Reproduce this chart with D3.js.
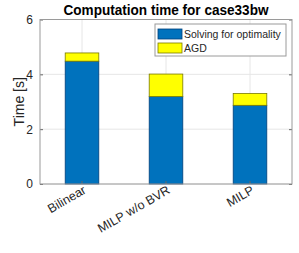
<!DOCTYPE html>
<html>
<head>
<meta charset="utf-8">
<script src="https://cdn.jsdelivr.net/npm/d3@7"></script>
<style>
body { margin: 0; background: #fff; }
text { font-family: "Liberation Sans", Arial, sans-serif; }
</style>
</head>
<body>
<div id="chart"></div>
<script>
// data
const categories = ['Bilinear', 'MILP w/o BVR', 'MILP'];
const solving = [4.48, 3.19, 2.87];
const agd = [0.30, 0.82, 0.43];
const seriesNames = ['Solving for optimality', 'AGD'];
const yTicks = [0, 2, 4, 6];

const colors = ['#0072BD', '#FFFF00'];
const edges = ['#00407a', '#7a7a00'];

const W = 299, H = 253;
const m = {top: 19.5, left: 40, right: 7, bottom: 69};
const cw = W - m.left - m.right;
const ch = H - m.top - m.bottom;

const svg = d3.select('#chart').append('svg')
    .attr('width', W).attr('height', H);
const g = svg.append('g').attr('transform', `translate(${m.left},${m.top})`);

const x = d3.scaleBand().domain(categories).range([0, cw]).paddingInner(0.6).paddingOuter(0.3);
const y = d3.scaleLinear().domain([0, 6]).range([ch, 0]);

// 格線
g.append('g').selectAll('line.gy').data(yTicks).enter().append('line')
    .attr('x1', 0).attr('x2', cw)
    .attr('y1', d => y(d)).attr('y2', d => y(d))
    .style('stroke', '#e6e6e6').style('stroke-width', 1);
g.append('g').selectAll('line.gx').data(categories).enter().append('line')
    .attr('x1', d => x(d) + x.bandwidth() / 2).attr('x2', d => x(d) + x.bandwidth() / 2)
    .attr('y1', 0).attr('y2', ch)
    .style('stroke', '#e6e6e6').style('stroke-width', 1);

// stacked bars
const stackData = categories.map((c, i) => ({cat: c, s: solving[i], a: agd[i]}));
const stacked = d3.stack().keys(['s', 'a'])(stackData);
stacked.forEach((layer, li) => {
    g.append('g').selectAll('rect').data(layer).enter().append('rect')
        .attr('x', d => x(d.data.cat))
        .attr('width', x.bandwidth())
        .attr('y', d => y(d[1]))
        .attr('height', d => y(d[0]) - y(d[1]))
        .style('fill', colors[li])
        .style('stroke', edges[li])
        .style('stroke-width', 0.8);
});

// axes
const yAxis = d3.axisLeft(y).tickValues(yTicks).tickFormat(d3.format('d'))
    .tickSizeInner(-3).tickSizeOuter(0).tickPadding(7);
const yg = g.append('g').call(yAxis);
yg.select('.domain').remove();
yg.selectAll('line').style('stroke', '#666');
yg.selectAll('text').style('font-size', '12px').style('fill', '#262626');

const yAxisR = d3.axisRight(y).tickValues(yTicks).tickSizeInner(-3).tickSizeOuter(0).tickFormat('');
const yr = g.append('g').attr('transform', `translate(${cw},0)`).call(yAxisR);
yr.select('.domain').remove();
yr.selectAll('line').style('stroke', '#666');

const xAxis = d3.axisBottom(x).tickSizeInner(-3).tickSizeOuter(0).tickPadding(3);
const xg = g.append('g').attr('transform', `translate(0,${ch})`).call(xAxis);
xg.select('.domain').remove();
xg.selectAll('line').style('stroke', '#666');
xg.selectAll('text')
    .style('font-size', '12.5px').style('fill', '#262626')
    .style('text-anchor', 'end')
    .attr('dy', '0.55em').attr('dx', '0em')
    .attr('transform', 'rotate(-30)');

// frame
g.append('rect').attr('x', 0).attr('y', 0).attr('width', cw).attr('height', ch)
    .style('fill', 'none').style('stroke', '#9a9a9a').style('stroke-width', 1);

// title
svg.append('text').attr('x', m.left + cw / 2).attr('y', 15)
    .attr('text-anchor', 'middle')
    .attr('textLength', 205).attr('lengthAdjust', 'spacingAndGlyphs')
    .style('font-size', '14px').style('font-weight', 'bold').style('fill', '#000')
    .text('Computation time for case33bw');

// y label
svg.append('text')
    .attr('transform', `translate(23.5,${m.top + ch / 2}) rotate(-90)`)
    .attr('text-anchor', 'middle')
    .style('font-size', '14px').style('fill', '#262626')
    .text('Time [s]');

// legend
const lg = svg.append('g').attr('transform', 'translate(155,24)');
lg.append('rect').attr('width', 131).attr('height', 32)
    .style('fill', '#fff').style('stroke', '#9a9a9a').style('stroke-width', 1);
seriesNames.forEach((name, i) => {
    lg.append('rect').attr('x', 3).attr('y', 5 + i * 14).attr('width', 24).attr('height', 10)
        .style('fill', colors[i]).style('stroke', edges[i]).style('stroke-width', 0.8);
    lg.append('text').attr('x', 29).attr('y', 10 + i * 14).attr('dy', '0.35em')
        .style('font-size', '10.5px').style('fill', '#262626')
        .text(name);
});
</script>
</body>
</html>
